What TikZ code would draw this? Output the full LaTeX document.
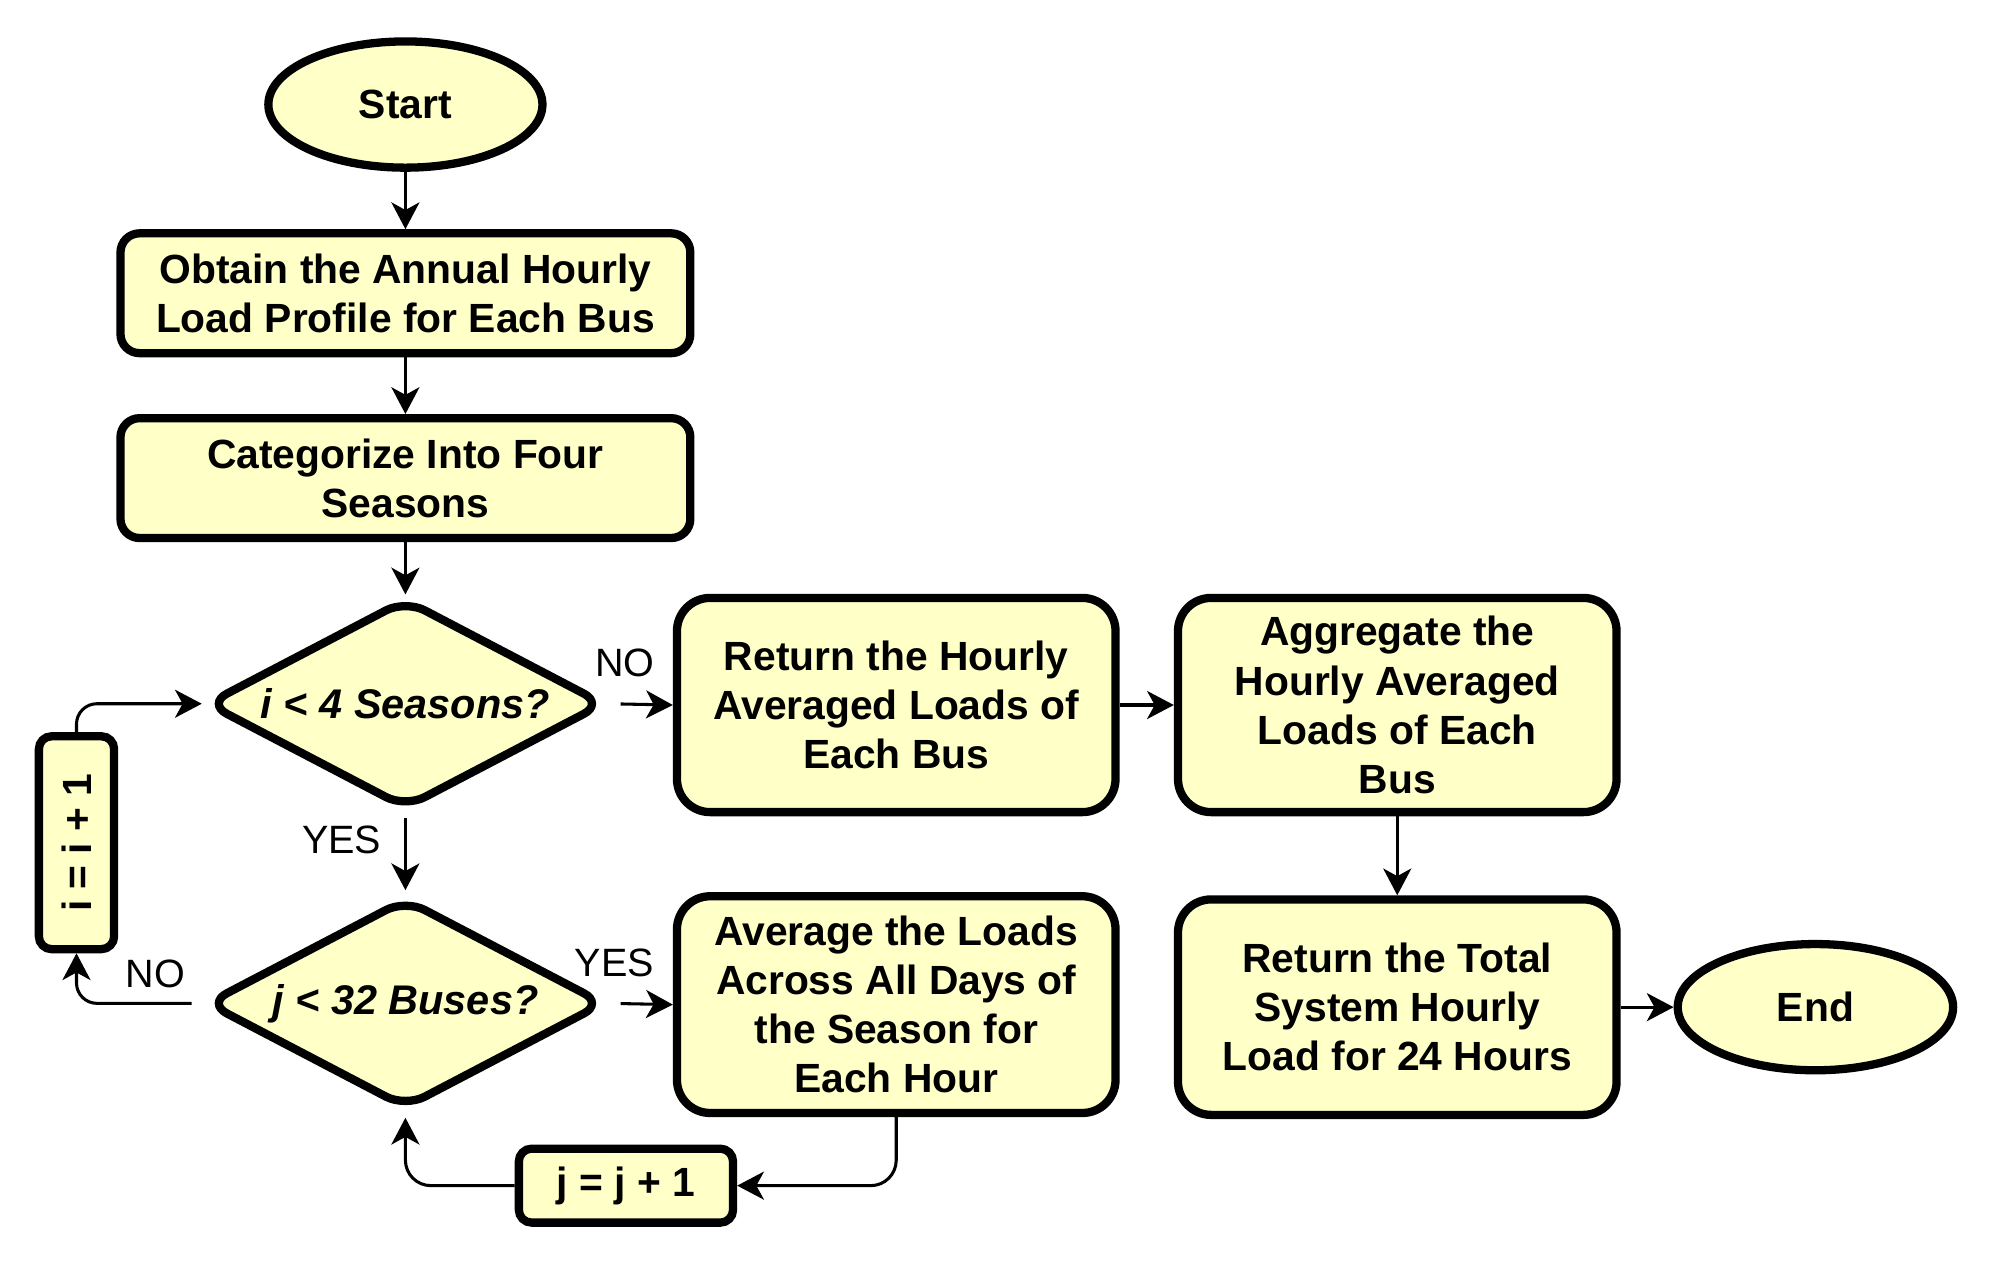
\documentclass[tikz,border=0pt]{standalone}
\usepackage{fontspec}
\setmainfont{Liberation Sans}
\usetikzlibrary{shapes.geometric,arrows.meta}
\definecolor{boxfill}{HTML}{FFFFC8}
\begin{document}
\begin{tikzpicture}[x=1pt,y=-1pt,
 base/.style={draw=black, line width=6.5pt, fill=boxfill, font=\fontsize{32}{38.5}\selectfont\bfseries, align=center, inner sep=0pt},
 proc/.style={base, rectangle, rounded corners=22pt},
 term/.style={base, ellipse},
 dec/.style={base, diamond, aspect=1.94, font=\fontsize{32.5}{38.5}\selectfont\bfseries\itshape, rounded corners=17pt},
 conn/.style={line width=2.4pt, -{Stealth[length=21pt,width=22pt,inset=6pt]}},
 lab/.style={font=\fontsize{31}{36}\selectfont}]
\useasboundingbox (0,0) rectangle (1568,994);
\node[term, minimum width=215pt, minimum height=99pt] (start) at (318,82) {Start};
\node[proc, rounded corners=15pt, minimum width=447pt, minimum height=94pt] (obtain) at (318,230) {Obtain the Annual Hourly\\Load Profile for Each Bus};
\node[proc, rounded corners=15pt, minimum width=447pt, minimum height=94pt] (categ) at (318,375) {Categorize Into Four\\Seasons};
\node[dec, minimum width=313pt, minimum height=165pt] (d1) at (318,552) {i < 4 Seasons?};
\node[dec, minimum width=313pt, minimum height=165pt] (d2) at (318,787) {j < 32 Buses?};
\node[proc, rounded corners=10pt, minimum width=59pt, minimum height=167pt] (ibox) at (60,661) {\rotatebox{90}{i = i + 1}};
\node[proc, rounded corners=10pt, minimum width=168pt, minimum height=58pt] (jbox) at (491,930) {j = j + 1};
\node[proc, rounded corners=26pt, minimum width=344pt, minimum height=168pt] (ret) at (703,553) {Return the Hourly\\Averaged Loads of\\Each Bus};
\node[proc, rounded corners=26pt, minimum width=344pt, minimum height=168pt] (agg) at (1096,553) {Aggregate the\\Hourly Averaged\\Loads of Each\\Bus};
\node[proc, rounded corners=26pt, minimum width=344pt, minimum height=170pt] (avg) at (703,788) {Average the Loads\\Across All Days of\\the Season for\\Each Hour};
\node[proc, rounded corners=26pt, minimum width=344pt, minimum height=169pt] (tot) at (1096,790) {Return the Total\\System Hourly\\Load for 24 Hours};
\node[term, minimum width=216pt, minimum height=99pt] (endn) at (1424,790) {End};

\draw[conn] (start) -- (obtain);
\draw[conn] (obtain) -- (categ);
\draw[conn] (categ) -- (d1);
\draw[conn, shorten <=9pt] (d1.east) -- (ret.west);
\draw[conn, shorten <=4pt, shorten >=3pt] (d1.south) -- (d2.north);
\draw[conn, shorten <=9pt] (d2.east) -- (avg.west);
\draw[conn, rounded corners=20pt] (avg.south) |- (jbox.east);
\draw[conn, rounded corners=20pt, shorten >=4pt] (jbox.west) -| (d2.south);
\draw[conn, rounded corners=16pt, shorten <=8pt] (d2.west) -| (ibox.south);
\draw[conn, rounded corners=16pt] (ibox.north) |- (d1.west);
\draw[conn] (ret) -- (agg);
\draw[conn] (agg) -- (tot);
\draw[conn] (tot) -- (endn);

\node[lab] (lno1) at (490,520) {NO};
\node[lab] (lyes1) at (268,659) {YES};
\node[lab] (lyes2) at (482,755) {YES};
\node[lab] (lno2) at (122,764) {NO};
\end{tikzpicture}
\end{document}
